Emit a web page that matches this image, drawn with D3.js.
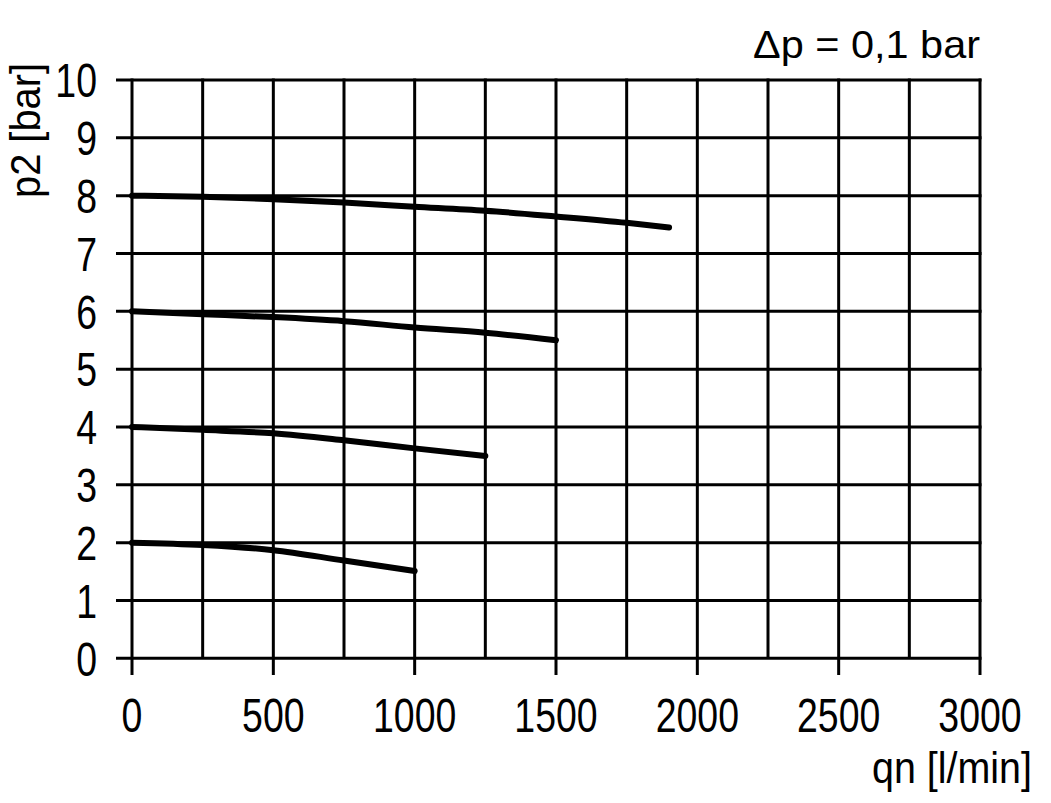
<!DOCTYPE html>
<html><head><meta charset="utf-8">
<script src="https://cdn.jsdelivr.net/npm/d3@7"></script>
<style>
body{margin:0;background:#fff;}
text{font-family:"Liberation Sans",Arial,sans-serif;fill:#000;}
</style></head><body>
<svg id="c" width="1051" height="803"></svg>
<script>
const xTicks=[0,500,1000,1500,2000,2500,3000];
const xGrid=[0,250,500,750,1000,1250,1500,1750,2000,2250,2500,2750,3000];
const yTicks=[0,1,2,3,4,5,6,7,8,9,10];
const qn8=[0,250,500,750,1000,1250,1500,1750,1900];
const p8=[8.00,7.98,7.94,7.88,7.81,7.74,7.64,7.53,7.45];
const qn6=[0,250,500,750,1000,1250,1500];
const p6=[6.00,5.95,5.90,5.83,5.72,5.63,5.50];
const qn4=[0,250,500,750,1000,1250];
const p4=[4.00,3.95,3.89,3.77,3.63,3.50];
const qn2=[0,250,500,750,1000];
const p2=[2.00,1.96,1.87,1.69,1.51];
const series=[[qn8,p8],[qn6,p6],[qn4,p4],[qn2,p2]];

const svg=d3.select("#c");
const x=d3.scaleLinear().domain([0,3000]).range([132,980]);
const y=d3.scaleLinear().domain([0,10]).range([658.3,80]);
const SX=0.78;

// horizontal grid
svg.append("g").selectAll("line").data(yTicks).join("line")
 .attr("x1",116).attr("x2",x(3000)+1.5).attr("y1",d=>y(d)).attr("y2",d=>y(d))
 .attr("stroke","#000").attr("stroke-width",3);
// vertical grid
svg.append("g").selectAll("line").data(xGrid).join("line")
 .attr("x1",d=>x(d)).attr("x2",d=>x(d)).attr("y1",y(10)-1.5)
 .attr("y2",d=>d%500===0?675:y(0))
 .attr("stroke","#000").attr("stroke-width",3);

// y tick labels
svg.append("g").selectAll("text").data(yTicks).join("text")
 .attr("transform",d=>`translate(97,${y(d)}) scale(${SX},1)`)
 .attr("dy","0.36em").attr("text-anchor","end")
 .attr("font-size",48).text(d=>d);
// x tick labels
svg.append("g").selectAll("text").data(xTicks).join("text")
 .attr("transform",d=>`translate(${x(d)},732) scale(${SX},1)`)
 .attr("text-anchor","middle")
 .attr("font-size",48).text(d=>d);

// curves
const line=d3.line().x(d=>x(d[0])).y(d=>y(d[1])).curve(d3.curveMonotoneX);
svg.append("g").selectAll("path").data(series.map(s=>s[0].map((q,i)=>[q,s[1][i]]))).join("path")
 .attr("d",line).attr("fill","none").attr("stroke","#000").attr("stroke-width",6)
 .attr("stroke-linecap","round");

// titles
svg.append("text").attr("x",753).attr("y",58)
 .attr("textLength",227).attr("lengthAdjust","spacingAndGlyphs")
 .attr("font-size",39).text("\u0394p = 0,1 bar");
svg.append("text").attr("x",872).attr("y",783)
 .attr("textLength",160).attr("lengthAdjust","spacingAndGlyphs")
 .attr("font-size",44).text("qn [l/min]");
svg.append("text").attr("transform","translate(40,198) rotate(-90)")
 .attr("textLength",135).attr("lengthAdjust","spacingAndGlyphs")
 .attr("font-size",43).text("p2 [bar]");
</script></body></html>
